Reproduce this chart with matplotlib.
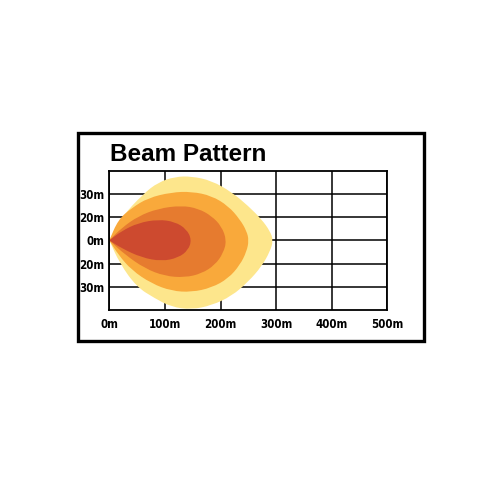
"""Beam pattern chart: nested light zones over a distance grid."""

import matplotlib
matplotlib.use("Agg")
import matplotlib.pyplot as plt
from matplotlib.path import Path
from matplotlib.patches import PathPatch, Rectangle

# distance ticks (m) and the lateral rows (grid units, labelled in metres)
x_ticks = [0, 100, 200, 300, 400, 500]
x_labels = ["0m", "100m", "200m", "300m", "400m", "500m"]
y_ticks = [2, 1, 0, -1, -2]
y_labels = ["30m", "20m", "0m", "20m", "30m"]

# outlines, going round from the lamp at (0, 0)
yellow_x = [0, 22, 61, 88, 118, 148, 184, 220, 250, 274, 289, 295,
            289, 274, 250, 220, 184, 148, 112, 82, 49, 19, 0]
yellow_y = [0, 1.0, 2.0, 2.5, 2.74, 2.76, 2.57, 2.08, 1.48, 0.9, 0.4, 0,
            -0.48, -1.12, -1.78, -2.4, -2.8, -2.98, -2.87, -2.5, -2.0, -1.0, 0]

orange_x = [0, 16, 40, 70, 112, 148, 184, 214, 235, 247, 251,
            247, 235, 214, 184, 148, 112, 76, 40, 16, 0]
orange_y = [0, 0.89, 1.39, 1.83, 2.07, 2.1, 1.92, 1.48, 0.9, 0.4, 0,
            -0.48, -1.06, -1.64, -2.04, -2.23, -2.18, -1.86, -1.28, -0.61, 0]

dark_x = [0, 22, 52, 88, 130, 160, 184, 202, 211,
          205, 190, 166, 136, 100, 64, 28, 0]
dark_y = [0, 0.53, 1.04, 1.37, 1.5, 1.37, 1.05, 0.6, 0,
          -0.55, -1.06, -1.43, -1.6, -1.54, -1.21, -0.61, 0]

red_x = [0, 22, 52, 88, 118, 139, 148, 142, 124, 94, 58, 22, 0]
red_y = [0, 0.4, 0.75, 0.9, 0.8, 0.48, 0.03, -0.42, -0.75, -0.9, -0.74, -0.34, 0]

zones = [
    (yellow_x, yellow_y, "#fde68c"),
    (orange_x, orange_y, "#f9a93b"),
    (dark_x, dark_y, "#e67b2f"),
    (red_x, red_y, "#cd4a2f"),
]


def smooth_path(xs, ys):
    """Quadratic B-spline round the outline; the lamp point stays a corner."""
    pts = list(zip(xs, ys))
    inner = pts[1:-1]
    verts = [pts[0], ((pts[0][0] + inner[0][0]) / 2, (pts[0][1] + inner[0][1]) / 2)]
    codes = [Path.MOVETO, Path.LINETO]
    for i, p in enumerate(inner):
        nxt = inner[i + 1] if i + 1 < len(inner) else pts[-1]
        verts += [p, ((p[0] + nxt[0]) / 2, (p[1] + nxt[1]) / 2)]
        codes += [Path.CURVE3, Path.CURVE3]
    verts.append(pts[-1])
    codes.append(Path.LINETO)
    return Path(verts, codes)


fig = plt.figure(figsize=(5, 5), dpi=100)
ax = fig.add_axes([0.2186, 0.38, 0.556, 0.2786])

for xs, ys, color in zones:
    ax.add_patch(PathPatch(smooth_path(xs, ys), facecolor=color,
                           edgecolor="none", zorder=2))

ax.set_xlim(0, 500)
ax.set_ylim(-3, 3)
ax.set_xticks(x_ticks)
ax.set_xticklabels(x_labels)
ax.set_yticks(y_ticks)
ax.set_yticklabels(y_labels)
ax.grid(True, color="black", linewidth=1.1, zorder=1)
ax.set_axisbelow(True)
ax.tick_params(axis="y", length=0, pad=3.5)
ax.tick_params(axis="x", length=0, pad=5.5)
for lab in ax.get_xticklabels() + ax.get_yticklabels():
    lab.set_fontfamily("DejaVu Sans")
    lab.set_fontstretch("condensed")
    lab.set_fontweight("bold")
    lab.set_fontsize(8.3)
for sp in ax.spines.values():
    sp.set_linewidth(1.3)
    sp.set_zorder(3)

fig.text(0.221, 0.678, "Beam Pattern", fontsize=17.5, fontweight="bold",
         family="Liberation Sans", ha="left", va="baseline")

fig.patches.append(Rectangle((0.155, 0.318), 0.693, 0.416, transform=fig.transFigure,
                             fill=False, edgecolor="black", linewidth=2.4))

fig.savefig("out.png", dpi=100, facecolor="white")
